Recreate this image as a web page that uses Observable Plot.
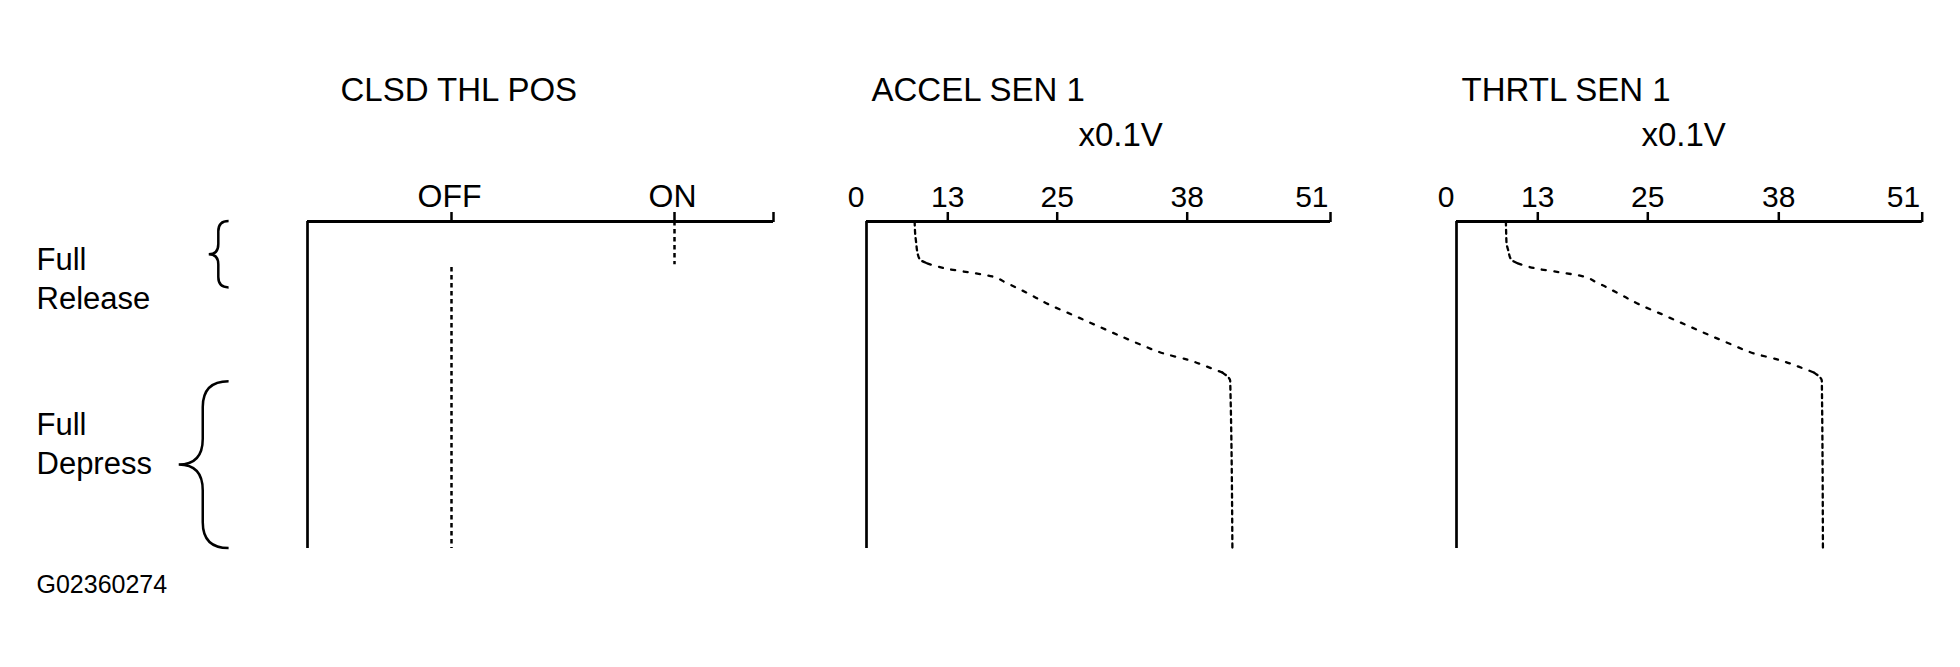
<!DOCTYPE html>
<html>
<head>
<meta charset="utf-8">
<script src="https://cdn.jsdelivr.net/npm/d3@7"></script>
<script src="https://cdn.jsdelivr.net/npm/@observablehq/plot@0.6"></script>
<style>
  html, body { margin: 0; padding: 0; background: #fff; }
  #root { position: relative; width: 1960px; height: 667px; font-family: "Liberation Sans", Arial, sans-serif; }
  #root svg { position: absolute; top: 0; overflow: visible; }
</style>
</head>
<body>
<div id="root"></div>
<script>
// ---------------- data ----------------
// vertical axis: pedal travel, 0 = top of chart, 100 = bottom
const phaseNames = ["Full\nRelease", "Full\nDepress"];
const phaseFrom = [0, 49];
const phaseTo = [20.3, 100];

// CLSD THL POS switch states
const clsdStates = ["OFF", "ON"];
const clsdStateIndex = [1, 2];
const clsdFrom = [14.1, 0];
const clsdTo = [100, 13.2];
const clsdTickValues = [1, 2, 3];

// voltage axes (x0.1V)
const voltTicks = [0, 13, 25, 38, 51];
const voltTickLabels = ["0", "13", "25", "38", "51"];

// ACCEL SEN 1 trace
const accelX = [7.7, 7.8, 7.95, 8.1, 8.5, 9.7, 13.0, 15.2, 17.4, 19.5, 21.6, 24.1, 26.5, 28.7, 31.0, 33.3, 35.7, 38.05, 40.2, 41.2, 41.9, 42.1];
const accelY = [0, 4.1, 6.6, 9.0, 11.5, 12.8, 14.5, 15.5, 16.5, 18.9, 21.7, 25.4, 28.5, 31.5, 34.6, 37.6, 40.4, 42.3, 44.9, 46.2, 48.7, 100];

// THRTL SEN 1 trace
const thrtlX = [7.9, 7.95, 8.0, 8.3, 8.7, 9.8, 13.05, 15.3, 17.5, 19.6, 21.6, 24.1, 26.5, 28.7, 31.0, 33.3, 35.6, 38.0, 40.2, 41.2, 41.9, 42.0];
const thrtlY = [0, 4.1, 6.6, 9.0, 11.5, 12.8, 14.5, 15.5, 16.5, 18.9, 21.7, 25.4, 28.5, 31.5, 34.6, 37.6, 40.4, 42.3, 44.9, 46.2, 48.7, 100];

const figureCode = "G02360274";

// ---------------- helpers ----------------
const FONT = "Liberation Sans, Arial, sans-serif";
const H = 667, M_TOP = 221, M_BOTTOM = 119;
const root = document.getElementById("root");

const phases = phaseNames.map((name, i) => ({name, from: phaseFrom[i], to: phaseTo[i], mid: (phaseFrom[i] + phaseTo[i]) / 2}));
const clsd = clsdStates.map((s, i) => ({state: s, x: clsdStateIndex[i], from: clsdFrom[i], to: clsdTo[i]}));
const ticksData = voltTicks.map((v, i) => ({v, label: voltTickLabels[i]}));

function place(svg, left) {
  svg.style.left = left + "px";
  root.appendChild(svg);
}

function braces(index, scales, values, dims) {
  const g = d3.create("svg:g").attr("fill", "none").attr("stroke", "black").attr("stroke-width", 2.5);
  const xr = dims.marginLeft - 78.4;
  for (const p of phases) {
    const top = scales.y(p.from), bot = scales.y(p.to), mid = (top + bot) / 2;
    const h = bot - top, w = 0.155 * h, xv = xr - w, xp = xv - 0.93 * w;
    g.append("path").attr("d",
      `M${xr},${top} Q${xv},${top} ${xv},${top + w} L${xv},${mid - w} Q${xv},${mid} ${xp},${mid}` +
      ` Q${xv},${mid} ${xv},${mid + w} L${xv},${bot - w} Q${xv},${bot} ${xr},${bot}`);
  }
  return g.node();
}

// ---------------- chart 1: CLSD THL POS ----------------
const c1 = Plot.plot({
  width: 800, height: H,
  marginTop: M_TOP, marginBottom: M_BOTTOM, marginLeft: 307, marginRight: 27,
  style: {fontFamily: FONT, background: "transparent", overflow: "visible"},
  x: {type: "linear", domain: [0, 1, 2, 3], range: [307, 451, 674, 773]},
  y: {domain: [0, 100], reverse: true, axis: null},
  marks: [
    Plot.ruleY([0], {stroke: "black", strokeWidth: 3}),
    Plot.ruleX([0], {stroke: "black", strokeWidth: 2.7}),
    Plot.axisX(clsdTickValues, {anchor: "top", tickSize: 10, strokeWidth: 2.5, stroke: "black", tickFormat: () => "", label: null}),
    Plot.text(clsd, {x: "x", text: "state", frameAnchor: "top", lineAnchor: "bottom", dy: -15, dx: -2, fontSize: 32}),
    Plot.ruleX(clsd, {x: "x", y1: "from", y2: "to", stroke: "black", strokeWidth: 2.5, strokeDasharray: "4.5,3.5"}),
    Plot.text(["CLSD THL POS"], {frameAnchor: "top-left", textAnchor: "start", lineAnchor: "bottom", dx: 33, dy: -121, fontSize: 33}),
    Plot.text(phases.slice(0, 1), {y: "mid", text: "name", frameAnchor: "left", textAnchor: "start", lineAnchor: "bottom", lineHeight: 1.26, dx: -271, dy: 54.6, fontSize: 31}),
    Plot.text(phases.slice(1, 2), {y: "mid", text: "name", frameAnchor: "left", textAnchor: "start", lineAnchor: "bottom", lineHeight: 1.26, dx: -271, dy: 8.5, fontSize: 31}),
    braces,
    Plot.text([figureCode], {frameAnchor: "bottom-left", textAnchor: "start", lineAnchor: "bottom", dx: -271, dy: 44, fontSize: 25})
  ]
});
place(c1, 0);

// ---------------- voltage charts ----------------
function voltChart({title, xs, ys, width, marginLeft, marginRight, range, titleDx, unitDx}) {
  const pts = xs.map((x, i) => ({x, y: ys[i]}));
  const dense = "4,4.3", sparse = "4,8.5";
  const lineOpts = (dash) => ({x: "x", y: "y", stroke: "black", strokeWidth: 2.3, strokeDasharray: dash, curve: "monotone-y"});
  return Plot.plot({
    width, height: H,
    marginTop: M_TOP, marginBottom: M_BOTTOM, marginLeft, marginRight,
    style: {fontFamily: FONT, background: "transparent", overflow: "visible"},
    x: {type: "linear", domain: voltTicks, range},
    y: {domain: [0, 100], reverse: true, axis: null},
    marks: [
      Plot.ruleY([0], {stroke: "black", strokeWidth: 3}),
      Plot.ruleX([0], {stroke: "black", strokeWidth: 2.7}),
      Plot.axisX(voltTicks.slice(1), {anchor: "top", tickSize: 10, strokeWidth: 2.5, stroke: "black", tickFormat: () => "", label: null}),
      Plot.text(ticksData.slice(1, 4), {x: "v", text: "label", frameAnchor: "top", lineAnchor: "bottom", dy: -15, fontSize: 30}),
      Plot.text([ticksData[0], ticksData[4]], {x: "v", text: "label", frameAnchor: "top", textAnchor: "end", lineAnchor: "bottom", dy: -15, dx: -2, fontSize: 30}),
      Plot.line(pts.slice(0, 6), lineOpts(dense)),
      Plot.line(pts.slice(5, 20), lineOpts(sparse)),
      Plot.line(pts.slice(19), lineOpts(dense)),
      Plot.text([title], {frameAnchor: "top-left", textAnchor: "start", lineAnchor: "bottom", dx: titleDx, dy: -121, fontSize: 33}),
      Plot.text(["x0.1V"], {frameAnchor: "top-left", textAnchor: "start", lineAnchor: "bottom", dx: unitDx, dy: -76, fontSize: 33})
    ]
  });
}

place(voltChart({title: "ACCEL SEN 1", xs: accelX, ys: accelY, width: 560, marginLeft: 66, marginRight: 30,
  range: [66, 147.3, 256.7, 386.7, 530], titleDx: 5, unitDx: 212}), 800);
place(voltChart({title: "THRTL SEN 1", xs: thrtlX, ys: thrtlY, width: 560, marginLeft: 56, marginRight: 38.3,
  range: [56, 137.3, 247.3, 378.3, 521.7], titleDx: 5, unitDx: 185}), 1400);
</script>
</body>
</html>
